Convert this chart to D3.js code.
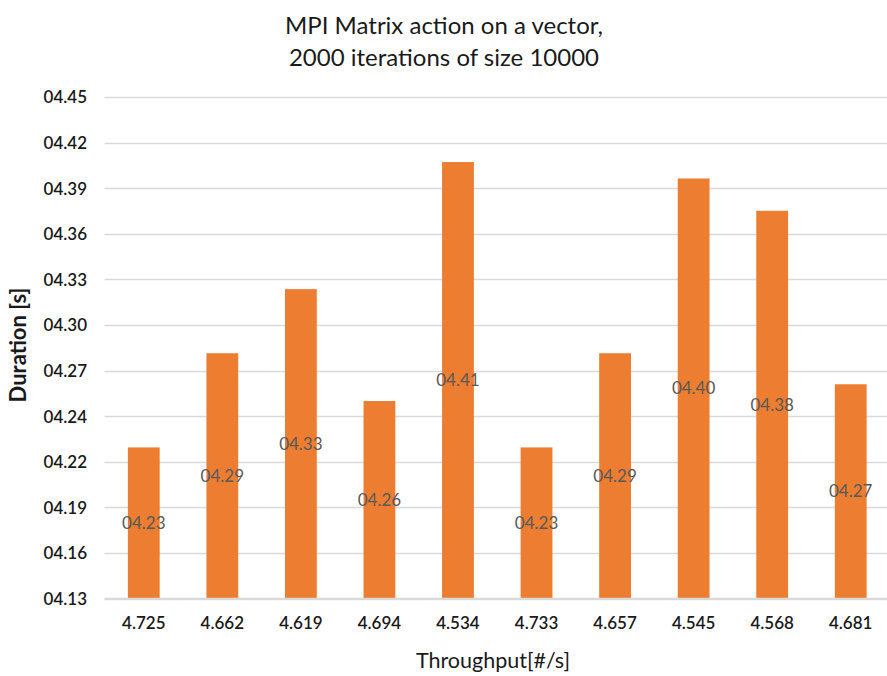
<!DOCTYPE html>
<html>
<head>
<meta charset="utf-8">
<script src="https://cdn.jsdelivr.net/npm/d3@7"></script>
<style>
  html, body { margin: 0; padding: 0; background: #fff; }
  svg { display: block; }
</style>
</head>
<body>
<svg id="chart" width="887" height="676"></svg>
<script>
// ---- data ----
const categories = ["4.725", "4.662", "4.619", "4.694", "4.534", "4.733", "4.657", "4.545", "4.568", "4.681"];
const durations = [4.2264, 4.2865, 4.3274, 4.2560, 4.4085, 4.2264, 4.2865, 4.3980, 4.3774, 4.2667];
const tickLabels = ["04.13", "04.16", "04.19", "04.22", "04.24", "04.27", "04.30", "04.33", "04.36", "04.39", "04.42", "04.45"];
const yMin = 4.13, yMax = 4.45;

const titleLines = ["MPI Matrix action on a vector,", "2000 iterations of size 10000"];
const xTitle = "Throughput[#/s]";
const yTitle = "Duration [s]";

// ---- layout ----
const svg = d3.select("#chart");
const W = 887, H = 676;
const plot = { left: 104.5, right: 890, top: 97, bottom: 598.5 };
const font = "Lato, 'Open Sans', sans-serif";

const x = d3.scaleBand().domain(categories).range([plot.left, plot.right]).paddingInner(0.595).paddingOuter(0.2975);
const y = d3.scaleLinear().domain([yMin, yMax]).range([plot.bottom, plot.top]);

const tickVals = tickLabels.map((_, i) => yMin + i * (yMax - yMin) / (tickLabels.length - 1));

// gridlines
svg.append("g")
  .selectAll("line").data(tickVals).join("line")
  .attr("x1", plot.left).attr("x2", W)
  .attr("y1", d => Math.round(y(d)) + 0.5).attr("y2", d => Math.round(y(d)) + 0.5)
  .attr("stroke", "#d9d9d9").attr("stroke-width", 1.5);

// y axis labels
const yAxis = d3.axisLeft(y).tickValues(tickVals).tickFormat((d, i) => tickLabels[i]).tickSize(0).tickPadding(0);
const gy = svg.append("g").attr("transform", `translate(87,0)`).call(yAxis);
gy.select(".domain").remove();
gy.selectAll("text").attr("font-family", font).attr("font-size", 17).attr("font-weight", 600).attr("fill", "#1a1a1a").attr("dy", "0.35em");

// bars
svg.append("g").selectAll("rect").data(durations).join("rect")
  .attr("x", (d, i) => x(categories[i]))
  .attr("width", x.bandwidth())
  .attr("y", d => y(d))
  .attr("height", d => y(yMin) - y(d))
  .attr("fill", "#ED7D31");

// data labels (centered in bar)
svg.append("g").selectAll("text").data(durations).join("text")
  .attr("x", (d, i) => x(categories[i]) + x.bandwidth() / 2)
  .attr("y", d => (y(d) + y(yMin)) / 2)
  .attr("dy", "0.35em")
  .attr("text-anchor", "middle")
  .attr("font-family", font).attr("font-size", 17)
  .attr("fill", "#595959")
  .text(d => "0" + d3.format(".2f")(d));

// x axis
const xAxis = d3.axisBottom(x).tickSize(0).tickPadding(0);
const gx = svg.append("g").attr("transform", `translate(0,${plot.bottom})`).call(xAxis);
gx.select(".domain").remove();
gx.selectAll("text").attr("font-family", font).attr("font-size", 17).attr("font-weight", 600).attr("fill", "#1a1a1a").attr("y", 0).attr("dy", "30");

// baseline
svg.append("line")
  .attr("x1", plot.left).attr("x2", W)
  .attr("y1", plot.bottom).attr("y2", plot.bottom)
  .attr("stroke", "#d9d9d9").attr("stroke-width", 1.5);

// title
svg.append("g").selectAll("text").data(titleLines).join("text")
  .attr("x", 444).attr("y", (d, i) => 34 + i * 32)
  .attr("text-anchor", "middle")
  .attr("font-family", font).attr("font-size", 24)
  .attr("fill", "#1a1a1a")
  .text(d => d);

// axis titles
svg.append("text")
  .attr("x", 493).attr("y", 668)
  .attr("text-anchor", "middle")
  .attr("font-family", font).attr("font-size", 21.5)
  .attr("fill", "#1a1a1a")
  .text(xTitle);

svg.append("text")
  .attr("transform", `translate(26,345) rotate(-90)`)
  .attr("text-anchor", "middle")
  .attr("font-family", font).attr("font-size", 22).attr("font-weight", 700)
  .attr("fill", "#1a1a1a")
  .text(yTitle);
</script>
</body>
</html>
